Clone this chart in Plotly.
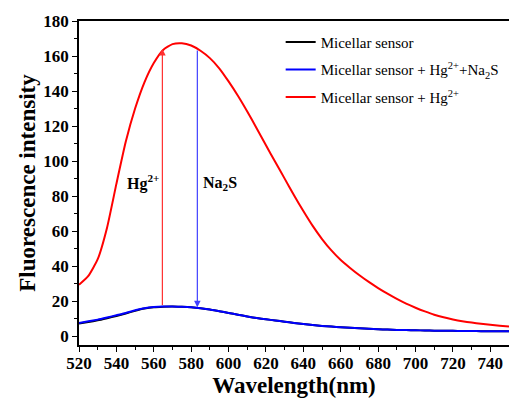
import plotly.graph_objects as go

# Emission spectra (wavelength in nm, intensity in a.u.)
wavelength = list(range(520, 751, 5))

micellar_hg = [
    29.4, 34.5, 44, 62, 87, 111, 130, 145, 156, 163.5,
    166.8, 167.3, 166, 163, 158.8, 153, 145.5, 137.3, 128.3, 118.8,
    109, 99.5, 90, 80.5, 71.5, 63, 55.5, 49, 43.5, 39,
    34.8, 31, 27.5, 24.3, 21.3, 18.6, 16.3, 14.2, 12.3, 10.8,
    9.6, 8.6, 7.8, 7.1, 6.5, 6.0, 5.6,
]

micellar_hg_na2s = [
    7.6, 8.5, 9.5, 10.7, 12, 13.3, 14.8, 16, 16.7, 17,
    17, 16.8, 16.5, 16, 15.3, 14.3, 13.3, 12.3, 11.3, 10.4,
    9.7, 9, 8.3, 7.6, 7, 6.4, 5.9, 5.5, 5.2, 4.9,
    4.6, 4.3, 4, 3.8, 3.6, 3.5, 3.4, 3.3, 3.2, 3.1,
    3.1, 3, 3, 2.9, 2.9, 2.8, 2.8,
]

micellar = [
    7.2, 8.1, 9.1, 10.3, 11.6, 13.0, 14.5, 15.8, 16.6, 16.9,
    17, 16.8, 16.5, 16, 15.3, 14.3, 13.3, 12.3, 11.3, 10.4,
    9.7, 9, 8.3, 7.6, 7, 6.4, 5.9, 5.5, 5.2, 4.9,
    4.6, 4.3, 4, 3.8, 3.6, 3.5, 3.4, 3.3, 3.2, 3.1,
    3.1, 3, 3, 2.9, 2.9, 2.8, 2.8,
]

series_names = [
    "Micellar sensor",
    "Micellar sensor + Hg<sup>2+</sup>+Na<sub>2</sub>S",
    "Micellar sensor + Hg<sup>2+</sup>",
]
series_colors = ["#000000", "#0000ff", "#ff0000"]

# Arrows marking the Hg2+ turn-on and the Na2S turn-off
hg_arrow_x, hg_arrow_from, hg_arrow_to = 564.6, 17, 164
na2s_arrow_x, na2s_arrow_from, na2s_arrow_to = 583.3, 164, 16.5

FONT = "Times New Roman, Liberation Serif, serif"

fig = go.Figure()
for i, (name, ys, color) in enumerate(zip(series_names, [micellar, micellar_hg_na2s, micellar_hg], series_colors)):
    fig.add_trace(go.Scatter(
        x=wavelength, y=ys, mode="lines", name=name, legendgroup=f"g{i}",
        line=dict(color=color, width=2, shape="spline", smoothing=0.5),
    ))

fig.add_annotation(
    x=hg_arrow_x, y=hg_arrow_to, ax=hg_arrow_x, ay=hg_arrow_from,
    xref="x", yref="y", axref="x", ayref="y", text="",
    showarrow=True, arrowhead=2, arrowsize=1.1, arrowwidth=1.2, arrowcolor="#ff3030",
)
fig.add_annotation(
    x=na2s_arrow_x, y=na2s_arrow_to, ax=na2s_arrow_x, ay=na2s_arrow_from,
    xref="x", yref="y", axref="x", ayref="y", text="",
    showarrow=True, arrowhead=2, arrowsize=1.1, arrowwidth=1.2, arrowcolor="#4040ff",
)
fig.add_annotation(
    x=hg_arrow_x - 1, y=88, xref="x", yref="y", text="<b>Hg<sup>2+</sup></b>",
    showarrow=False, xanchor="right", font=dict(family=FONT, size=16, color="black"),
)
fig.add_annotation(
    x=na2s_arrow_x + 2, y=87, xref="x", yref="y", text="<b>Na<sub>2</sub>S</b>",
    showarrow=False, xanchor="left", font=dict(family=FONT, size=16, color="black"),
)

axis_common = dict(
    showgrid=False, zeroline=False, showline=True, linecolor="black", linewidth=1.5,
    mirror=True, ticks="outside", ticklen=5, tickwidth=1.2, tickcolor="black",
    tickfont=dict(family=FONT, size=17, color="black", weight="bold"),
)

fig.update_xaxes(
    range=[520, 750], dtick=20, tick0=520, ticklabelstandoff=-3,
    minor=dict(ticks="outside", ticklen=3, dtick=10, tick0=520, tickcolor="black"),
    title=dict(text="<b>Wavelength(nm)</b>", font=dict(family=FONT, size=23, color="black"), standoff=4),
    **axis_common,
)
fig.update_yaxes(
    range=[-5, 180], dtick=20, tick0=0,
    minor=dict(ticks="outside", ticklen=3, dtick=10, tick0=0, tickcolor="black"),
    title=dict(text="<b>Fluorescence intensity</b>", font=dict(family=FONT, size=23, color="black"), standoff=1),
    **axis_common,
)

fig.update_layout(
    width=509, height=403,
    margin=dict(l=79, r=0, t=21, b=58, autoexpand=False),
    plot_bgcolor="white", paper_bgcolor="white",
    font=dict(family=FONT, color="black"),
    legend=dict(
        x=0.469, y=0.985, xanchor="left", yanchor="top",
        font=dict(family=FONT, size=15, color="black"),
        bgcolor="rgba(0,0,0,0)", tracegroupgap=5, itemwidth=30,
    ),
)

fig.write_html("out.html")
